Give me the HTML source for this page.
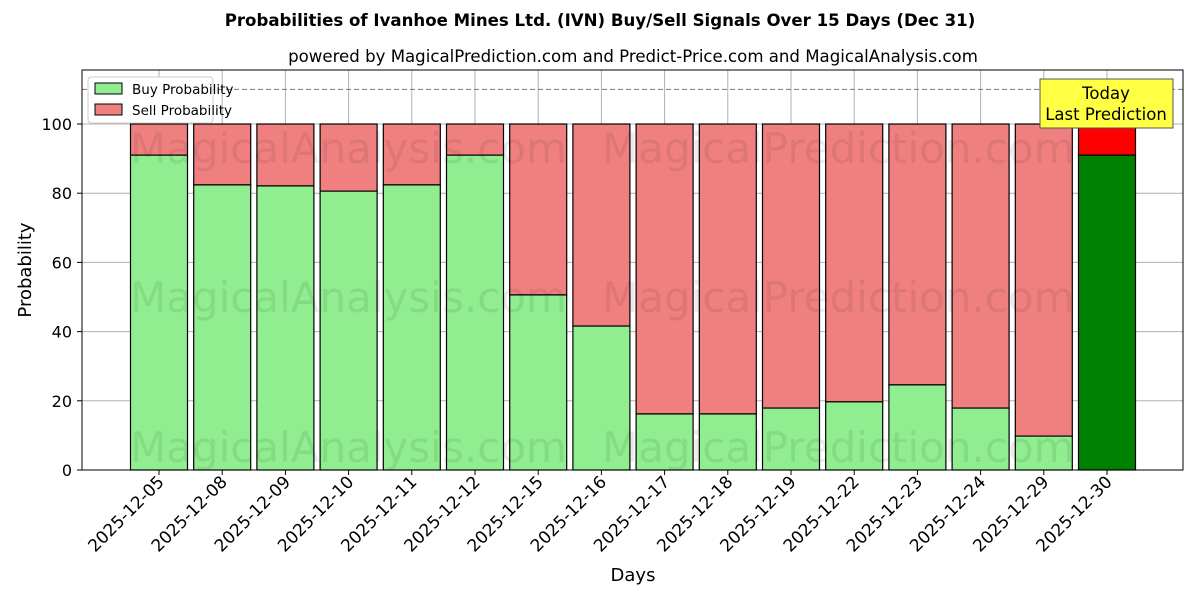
<!DOCTYPE html>
<html><head><meta charset="utf-8"><style>
body{margin:0;background:#fff;font-family:"DejaVu Sans","Liberation Sans",sans-serif}
svg{font-family:"DejaVu Sans","Liberation Sans",sans-serif}
</style></head><body>
<svg id="c" width="1200" height="600" xmlns="http://www.w3.org/2000/svg">
<text x="600" y="26" text-anchor="middle" font-size="16.6" font-weight="bold">Probabilities of Ivanhoe Mines Ltd. (IVN) Buy/Sell Signals Over 15 Days (Dec 31)</text>
<text x="633" y="62" text-anchor="middle" font-size="16.6">powered by MagicalPrediction.com and Predict-Price.com and MagicalAnalysis.com</text>
<g id="grid"></g>
<g id="bars"></g>
<g font-size="42" fill="#000" fill-opacity="0.08">
<text x="130" y="163">MagicalAnalysis.com</text><text x="602" y="163">MagicalPrediction.com</text>
<text x="130" y="312">MagicalAnalysis.com</text><text x="602" y="312">MagicalPrediction.com</text>
<text x="130" y="462">MagicalAnalysis.com</text><text x="602" y="462">MagicalPrediction.com</text>
</g>
<line x1="82" x2="1183" y1="89.4" y2="89.4" stroke="#777" stroke-dasharray="5,3"/>
<rect x="82" y="70" width="1101" height="400" fill="none" stroke="#000"/>
<g id="axes"></g>
<text x="633" y="581" text-anchor="middle" font-size="18">Days</text>
<text transform="translate(31,270) rotate(-90)" text-anchor="middle" font-size="18">Probability</text>
<g>
<rect x="88" y="77" width="125" height="46" fill="#fff" stroke="#ccc" rx="3"/>
<rect x="95" y="83" width="27" height="11" fill="#90ee90" stroke="#000"/>
<text x="132" y="94" font-size="13.5">Buy Probability</text>
<rect x="95" y="104" width="27" height="11" fill="#f08080" stroke="#000"/>
<text x="132" y="115" font-size="13.5">Sell Probability</text>
</g>
<g>
<rect x="1040" y="79" width="133" height="49" fill="#ffff44" stroke="#555"/>
<text x="1106" y="99" text-anchor="middle" font-size="16.5">Today</text>
<text x="1106" y="120" text-anchor="middle" font-size="16.5">Last Prediction</text>
</g>
</svg>
<script>
const categories=["2025-12-05","2025-12-08","2025-12-09","2025-12-10","2025-12-11","2025-12-12","2025-12-15","2025-12-16","2025-12-17","2025-12-18","2025-12-19","2025-12-22","2025-12-23","2025-12-24","2025-12-29","2025-12-30"];
const buyValues=[91.0,82.4,82.1,80.6,82.4,91.0,50.6,41.6,16.2,16.2,17.9,19.7,24.6,17.9,9.8,91.0];
const yTicks=[0,20,40,60,80,100];
const NS="http://www.w3.org/2000/svg";
const x=i=>159+i*63.2;
const y=v=>470-v*3.46;
const bw=57;
function mk(t,a,p){const e=document.createElementNS(NS,t);for(const k in a)e.setAttribute(k,a[k]);p.appendChild(e);return e;}
const g=document.getElementById('grid'),b=document.getElementById('bars'),ax=document.getElementById('axes');
yTicks.forEach(v=>{
 const l=mk('line',{x1:82,x2:1183,y1:y(v),y2:y(v),stroke:'#b0b0b0'},g);
 
 
 mk('line',{x1:77,x2:82,y1:y(v),y2:y(v),stroke:'#000'},ax);
 const t=mk('text',{x:72,y:y(v)+6,'text-anchor':'end','font-size':16},ax);t.textContent=v;
 
 
});
categories.forEach((c,i)=>{
 const l=mk('line',{x1:x(i),x2:x(i),y1:70,y2:470,stroke:'#b0b0b0'},g);
 
 
 const last=i===categories.length-1;
 const bv=buyValues[i];
 const s=mk('rect',{x:x(i)-bw/2,y:y(100),width:bw,height:y(bv)-y(100),fill:last?'#ff0000':'#f08080',stroke:'#000','stroke-width':1.2},b);
 
 
 const r=mk('rect',{x:x(i)-bw/2,y:y(bv),width:bw,height:y(0)-y(bv),fill:last?'#008000':'#90ee90',stroke:'#000','stroke-width':1.2},b);
 
 
 mk('line',{x1:x(i),x2:x(i),y1:470,y2:475,stroke:'#000'},ax);
 const t=mk('text',{transform:`translate(${x(i)+6},${483}) rotate(-45)`,'text-anchor':'end','font-size':17},ax);t.textContent=c;
 
 
});
</script>
</body></html>
